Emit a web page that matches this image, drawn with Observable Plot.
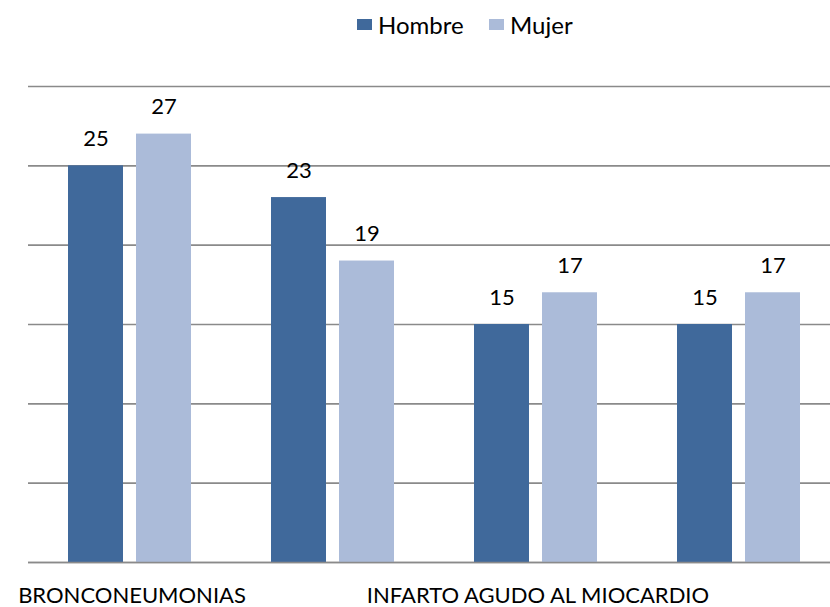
<!DOCTYPE html>
<html>
<head>
<meta charset="utf-8">
<script src="https://cdn.jsdelivr.net/npm/d3@7"></script>
<script src="https://cdn.jsdelivr.net/npm/@observablehq/plot@0.6"></script>
<style>
  html, body { margin: 0; padding: 0; background: #fff; overflow: hidden; }
  #legend { position: relative; height: 50px; font-family: Lato, "Open Sans", sans-serif; font-size: 24px; color: #000; }
  .item { position: absolute; top: 10px; display: flex; align-items: center; }
  .sw { width: 15px; height: 11px; margin-right: 6px; }
  svg { display: block; }
</style>
</head>
<body>
<div id="legend"></div>
<div id="chart"></div>
<script>
const categories = ["BRONCONEUMONIAS", "Causa 2", "INFARTO AGUDO AL MIOCARDIO", "Causa 4"];
const shownLabels = ["BRONCONEUMONIAS", "INFARTO AGUDO AL MIOCARDIO"];
const series = ["Hombre", "Mujer"];
const hombre = [25, 23, 15, 15];
const mujer = [27, 19, 17, 17];
const yTicks = [0, 5, 10, 15, 20, 25, 30];
const colors = ["#40699b", "#abbbd9"];

const data = [];
categories.forEach((c, i) => {
  data.push({cause: c, sex: "Hombre", value: hombre[i]});
  data.push({cause: c, sex: "Mujer", value: mujer[i]});
});
const dH = data.filter(d => d.sex === "Hombre");
const dM = data.filter(d => d.sex === "Mujer");

// Legend
const legend = document.getElementById("legend");
const legendLeft = [357, 489];
series.forEach((s, i) => {
  const it = document.createElement("div");
  it.className = "item";
  it.style.left = legendLeft[i] + "px";
  it.innerHTML = `<div class="sw" style="background:${colors[i]}"></div><span>${s}</span>`;
  legend.appendChild(it);
});

const chart = Plot.plot({
  width: 830,
  height: 557,
  marginLeft: 28,
  marginRight: -10,
  marginTop: 36,
  marginBottom: 45,
  style: {fontFamily: "Lato, 'Open Sans', sans-serif", fontSize: "22px", color: "#000", background: "#fff"},
  x: {domain: categories, padding: 0, label: null, axis: null},
  y: {domain: [0, 30], axis: null},
  color: {domain: series, range: colors},
  marks: [
    Plot.ruleY(yTicks, {stroke: "#8a8a8a", strokeWidth: 1.6}),
    Plot.barY(dH, {x: "cause", y: "value", fill: "sex", insetLeft: 40, insetRight: 108}),
    Plot.barY(dM, {x: "cause", y: "value", fill: "sex", insetLeft: 108, insetRight: 40}),
    Plot.ruleY([0], {stroke: "#8a8a8a", strokeWidth: 1.6}),
    Plot.text(dH, {x: "cause", y: "value", text: d => String(d.value), dx: -34, dy: -27, fill: "#000", fontSize: 22}),
    Plot.text(dM, {x: "cause", y: "value", text: d => String(d.value), dx: 34, dy: -27, fill: "#000", fontSize: 22}),
    Plot.axisX({domain: categories, tickSize: 0, tickPadding: 25, fontSize: 22, dx: 2,
      tickFormat: d => shownLabels.includes(d) ? d : "", label: null})
  ]
});
document.getElementById("chart").appendChild(chart);
</script>
</body>
</html>
